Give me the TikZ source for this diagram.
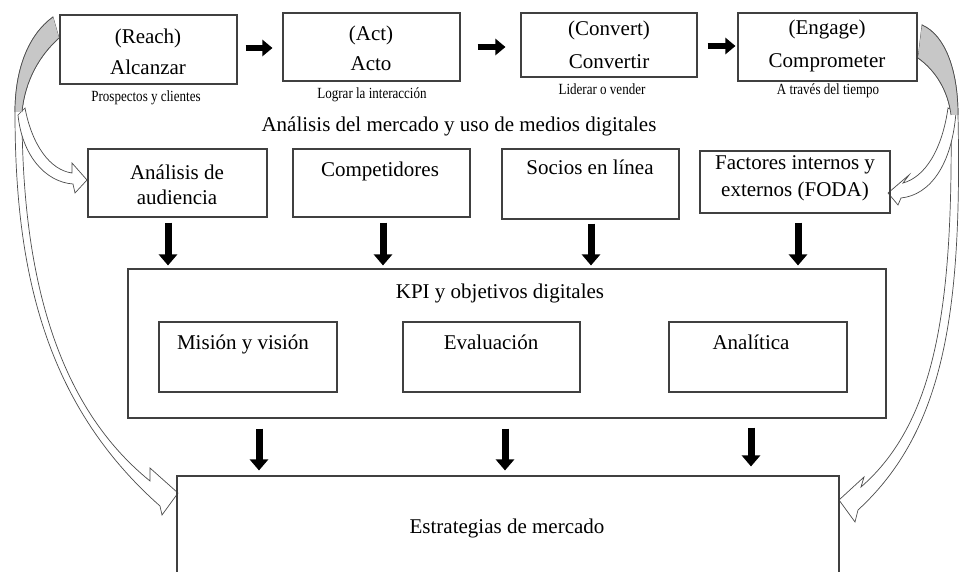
\documentclass[tikz,border=0pt]{standalone}
\usepackage{fontspec}
\setmainfont{Liberation Serif}
\newfontfamily\capfont[FakeStretch=0.84]{Liberation Serif}
\usetikzlibrary{arrows.meta,calc}
\begin{document}
\begin{tikzpicture}[x=1pt,y=-1pt,
  box/.style={draw=black!75, line width=1.1pt, inner sep=0pt, fill=none},
  txt/.style={font=\fontsize{21}{25}\selectfont, inner sep=0pt, anchor=base},
  captxt/.style={font=\capfont\fontsize{15.5}{18}\selectfont, inner sep=0pt, anchor=base},
  fat/.style={line width=7pt, -{Triangle[length=11pt,width=18pt]}},
  fattop/.style={line width=6pt, -{Triangle[length=10pt,width=16pt]}},
  curv/.style={draw=black!70, line width=0.7pt, fill=white, line join=miter},
  graypart/.style={fill=black!22},
  edgeline/.style={draw=black!70, line width=0.7pt}
]
\useasboundingbox (0,0) rectangle (961,572);
\clip (0,0) rectangle (961,572);
\fill[white] (0,0) rectangle (961,572);

% ---------- curved arrows (left) ----------
\draw[curv] (53,17) .. controls (28,35) and (15,70) .. (15,112)
  .. controls (15,260) and (40,400) .. (160,506)
  -- (162,515) -- (178,493) -- (150,468) -- (150,481)
  .. controls (50,400) and (22,260) .. (22,112)
  .. controls (25,80) and (40,55) .. (59,38) -- cycle;
\draw[curv] (18,115) .. controls (22,155) and (45,182) .. (73,184)
  -- (75,193) -- (87,180) -- (72,163) -- (72,173)
  .. controls (50,170) and (32,145) .. (25,108) -- cycle;
\fill[graypart] (53,17) .. controls (28,35) and (15,70) .. (15,112)
  -- (22,112) .. controls (25,80) and (40,55) .. (59,38) -- cycle;
\draw[edgeline] (53,17) .. controls (28,35) and (15,70) .. (15,112);
\draw[edgeline] (22,112) .. controls (25,80) and (40,55) .. (59,38);

% ---------- curved arrows (right) ----------
\draw[curv] (922,25) .. controls (945,35) and (958,70) .. (958,115)
  .. controls (962,310) and (945,430) .. (858,510)
  -- (855,522) -- (839,500) -- (864,477) -- (861,487)
  .. controls (938,420) and (953,300) .. (951,115)
  .. controls (948,90) and (935,70) .. (918,58) -- cycle;
\draw[curv] (956,112) .. controls (952,165) and (930,195) .. (901,198)
  -- (898,205) -- (888,193) -- (909,175) -- (903,183)
  .. controls (925,177) and (942,150) .. (948,108) -- cycle;
\fill[graypart] (922,25) .. controls (945,35) and (958,70) .. (958,115)
  -- (951,115) .. controls (948,90) and (935,70) .. (918,58) -- cycle;
\draw[edgeline] (922,25) .. controls (945,35) and (958,70) .. (958,115);
\draw[edgeline] (951,115) .. controls (948,90) and (935,70) .. (918,58);

% ---------- top row ----------
\node[box, minimum width=177pt, minimum height=69pt] (reach) at (148.5,49.5) {};
\node[box, minimum width=177pt, minimum height=68pt] (act) at (371.5,47) {};
\node[box, minimum width=176pt, minimum height=64pt] (conv) at (609,45) {};
\node[box, minimum width=179pt, minimum height=68pt] (eng) at (827.5,47) {};

\node[txt] (reachA) at (148,44) {(Reach)};
\node[txt] (reachB) at (148,75) {Alcanzar};
\node[txt] (actA) at (371,41) {(Act)};
\node[txt] (actB) at (371,71) {Acto};
\node[txt] (convA) at (609,36) {(Convert)};
\node[txt] (convB) at (609,69) {Convertir};
\node[txt] (engA) at (827,35) {(Engage)};
\node[txt] (engB) at (827,68) {Comprometer};

\node[captxt] (reachC) at (146,102) {Prospectos y clientes};
\node[captxt] (actC) at (372,98.5) {Lograr la interacción};
\node[captxt] (convC) at (602,95) {Liderar o vender};
\node[captxt] (engC) at (828,95) {A través del tiempo};

\draw[fattop] ($(reach.east)+(8,-1.5)$) -- ($(act.west)+(-10,1)$);
\draw[fattop] ($(act.east)+(17,0)$) -- ($(conv.west)+(-15,2)$);
\draw[fattop] ($(conv.east)+(10,1)$) -- ($(eng.west)+(-2,-1)$);

% ---------- title ----------
\node[txt] (title) at (459,132) {Análisis del mercado y uso de medios digitales};

% ---------- second row ----------
\node[box, minimum width=179pt, minimum height=68pt] (aud) at (177.5,183) {};
\node[box, minimum width=177pt, minimum height=68pt] (comp) at (381.5,183) {};
\node[box, minimum width=177pt, minimum height=70pt] (soc) at (590.5,184) {};
\node[box, minimum width=190pt, minimum height=62pt] (fac) at (795,182) {};

\node[txt] (audA) at (177,180) {Análisis de};
\node[txt] (audB) at (177,205) {audiencia};
\node[txt] (compA) at (380,177) {Competidores};
\node[txt] (socA) at (590,175) {Socios en línea};
\node[txt] (facA) at (795,170) {Factores internos y};
\node[txt] (facB) at (795,197) {externos (FODA)};

% ---------- KPI ----------
\node[box, minimum width=758pt, minimum height=149pt] (kpi) at (507,343.5) {};
\node[txt] (kpiT) at (500,298) {KPI y objetivos digitales};
\node[box, minimum width=178pt, minimum height=70pt] (mis) at (248,357) {};
\node[box, minimum width=177pt, minimum height=70pt] (eva) at (491.5,357) {};
\node[box, minimum width=178pt, minimum height=70pt] (ana) at (758,357) {};
\node[txt] (misT) at (243,349) {Misión y visión};
\node[txt] (evaT) at (491,349) {Evaluación};
\node[txt] (anaT) at (751,349) {Analítica};

% ---------- down arrows to KPI ----------
\coordinate (d1) at ($(aud.south)+(-9.5,5)$);
\coordinate (d2) at ($(comp.south)+(1.5,5)$);
\coordinate (d3) at ($(soc.south)+(0.5,4)$);
\coordinate (d4) at ($(fac.south)+(3,9)$);
\draw[fat, shorten >=3pt] (d1) -- (d1 |- kpi.north);
\draw[fat, shorten >=3pt] (d2) -- (d2 |- kpi.north);
\draw[fat, shorten >=3pt] (d3) -- (d3 |- kpi.north);
\draw[fat, shorten >=3pt] (d4) -- (d4 |- kpi.north);

% ---------- strategies ----------
\node[box, minimum width=662pt, minimum height=124pt] (estr) at (508,538) {};
\node[txt] (estrT) at (507,533) {Estrategias de mercado};

\coordinate (e1) at ($(kpi.south -| mis.south)+(11,10)$);
\coordinate (e2) at ($(kpi.south -| eva.south)+(13.5,10)$);
\coordinate (e3) at ($(kpi.south -| ana.south)+(-7,9)$);
\draw[fat, shorten >=5pt] (e1) -- (e1 |- estr.north);
\draw[fat, shorten >=5pt] (e2) -- (e2 |- estr.north);
\draw[fat, shorten >=9pt] (e3) -- (e3 |- estr.north);
\end{tikzpicture}
\end{document}
